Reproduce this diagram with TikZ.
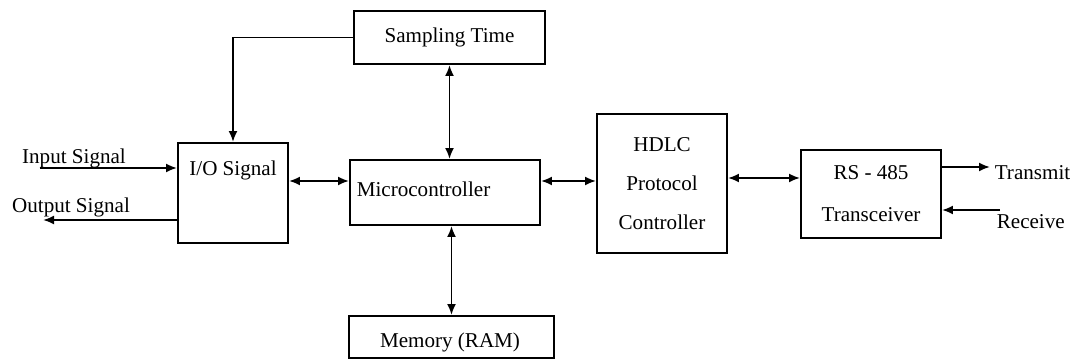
\documentclass[tikz,border=0pt]{standalone}
\usepackage{fontspec}
\setmainfont{Liberation Serif}
\usepackage{tikz}
\usetikzlibrary{arrows.meta}

\begin{document}
\begin{tikzpicture}[>={Latex[length=2.2mm,width=1.8mm]}, line width=1.1pt, font=\fontsize{12}{14}\selectfont,
    blk/.style={draw, inner sep=0pt}]
        \useasboundingbox (0,0) rectangle (21.6,7.2);
        % boxes
        \node[blk, minimum width=3.82cm, minimum height=1.06cm] (sam) at (8.99,6.45) {Sampling Time};
        \node[blk, minimum width=2.2cm, minimum height=2cm] (io) at (4.66,3.34) {};
        \node (iotxt) at (4.66,3.8) {I/O Signal};
        \node[blk, minimum width=3.8cm, minimum height=1.3cm] (mc) at (8.9,3.35) {};
        \node[anchor=west] (mctxt) at (7.0,3.42) {Microcontroller};
        \node[blk, minimum width=4.1cm, minimum height=0.84cm] (mem) at (9.03,0.46) {};
        \node (memtxt) at (9.0,0.36) {Memory (RAM)};
        \node[blk, minimum width=2.6cm, minimum height=2.78cm, align=center] (hdlc) at (13.24,3.53)
            {HDLC\\[8pt]Protocol\\[8pt]Controller};
        \node[blk, minimum width=2.8cm, minimum height=1.76cm, align=center] (rs) at (17.42,3.32)
            {RS - 485\\[10pt]Transceiver};
        % signals
        \node (insig) at (1.48,4.04) {Input Signal};
        \coordinate (inp) at (0.8,3.84);
        \draw[->] (inp) -- (io.west |- inp);
        \node (outsig) at (1.42,3.06) {Output Signal};
        \coordinate (outp) at (0.86,2.8);
        \draw[->] (io.west |- outp) -- (outp);
        % buses
        \coordinate (bus) at (0,3.58);
        \draw[<->] (io.east |- bus) -- (mc.west |- bus);
        \draw[<->] (mc.east |- bus) -- (hdlc.west |- bus);
        \coordinate (ser) at (0,3.64);
        \draw[<->] (hdlc.east |- ser) -- (rs.west |- ser);
        \draw[->] (sam.west) -| (io.north);
        \draw[<->] (sam.south) -- (sam.south |- mc.north);
        \draw[<->] (mem.north) -- (mem.north |- mc.south);
        % line side
        \coordinate (tx) at (19.8,3.86);
        \draw[->] (rs.east |- tx) -- (tx);
        \node[anchor=west] (txt) at (19.76,3.74) {Transmit};
        \coordinate (rx) at (20.0,3.0);
        \draw[->] (rx) -- (rs.east |- rx);
        \node[anchor=west] (rxt) at (19.8,2.76) {Receive};

    \end{tikzpicture}
\end{document}
